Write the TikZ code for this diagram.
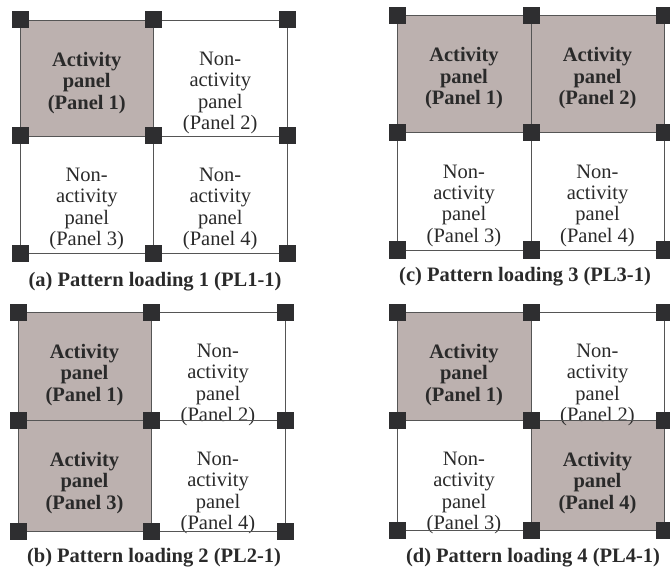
\documentclass[tikz,border=0pt]{standalone}
\usepackage{fontspec}
\setmainfont{Liberation Serif}
\usetikzlibrary{calc}
\definecolor{activefill}{HTML}{BCB1AF}
\definecolor{postgray}{HTML}{2E2E30}
\definecolor{linegray}{HTML}{555555}
\definecolor{textgray}{HTML}{2A2A2A}
\begin{document}
\begin{tikzpicture}[x=1pt,y=-1pt,every node/.style={inner sep=0pt,text=textgray},
    grid/.style={draw=linegray,line width=0.9pt},
    post/.style={fill=postgray,minimum size=17pt},
    active/.style={fill=activefill},
    nonlbl/.style={align=center,anchor=north,font=\fontsize{20.5}{21.3}\selectfont},
    actlbl/.style={nonlbl,font=\fontsize{20.5}{21.3}\selectfont\bfseries},
    caplbl/.style={anchor=base,font=\fontsize{20.5}{21.3}\selectfont\bfseries}]
    \useasboundingbox (0,0) rectangle (670,567);
    % grid points: column i, row j
    \foreach \p/\xa/\xb/\xc/\ya/\yb/\yc in {a/20/153.5/287/20/136/253,b/18/151/285/312/420/531,
        c/397/531/664/15.5/132.5/250,d/397/531/664/312/420/530}{
        \foreach \i/\x in {1/\xa,2/\xb,3/\xc}
            \foreach \j/\y in {1/\ya,2/\yb,3/\yc}
                \coordinate (\p\i\j) at (\x,\y);
        \coordinate (\p-1) at ($(\p11)!.5!(\p21)+(0,32)$);
        \coordinate (\p-2) at ($(\p21)!.5!(\p31)+(0,32)$);
        \coordinate (\p-3) at ($(\p12)!.5!(\p22)+(0,32)$);
        \coordinate (\p-4) at ($(\p22)!.5!(\p32)+(0,32)$);
    }
    % activity panels
    \fill[active] (a11) rectangle (a22);
    \fill[active] (b11) rectangle (b23);
    \fill[active] (c11) rectangle (c32);
    \fill[active] (d11) rectangle (d22) (d22) rectangle (d33);
    \node[actlbl] (a1) at (a-1) {Activity\\panel\\(Panel 1)};
    \node[nonlbl] (a2) at (a-2) {Non-\\activity\\panel\\(Panel 2)};
    \node[nonlbl] (a3) at (a-3) {Non-\\activity\\panel\\(Panel 3)};
    \node[nonlbl] (a4) at (a-4) {Non-\\activity\\panel\\(Panel 4)};
    \node[actlbl] (b1) at (b-1) {Activity\\panel\\(Panel 1)};
    \node[nonlbl] (b2) at (b-2) {Non-\\activity\\panel\\(Panel 2)};
    \node[actlbl] (b3) at (b-3) {Activity\\panel\\(Panel 3)};
    \node[nonlbl] (b4) at (b-4) {Non-\\activity\\panel\\(Panel 4)};
    \node[actlbl] (c1) at (c-1) {Activity\\panel\\(Panel 1)};
    \node[actlbl] (c2) at (c-2) {Activity\\panel\\(Panel 2)};
    \node[nonlbl] (c3) at (c-3) {Non-\\activity\\panel\\(Panel 3)};
    \node[nonlbl] (c4) at (c-4) {Non-\\activity\\panel\\(Panel 4)};
    \node[actlbl] (d1) at (d-1) {Activity\\panel\\(Panel 1)};
    \node[nonlbl] (d2) at (d-2) {Non-\\activity\\panel\\(Panel 2)};
    \node[nonlbl] (d3) at (d-3) {Non-\\activity\\panel\\(Panel 3)};
    \node[actlbl] (d4) at (d-4) {Activity\\panel\\(Panel 4)};
    % beams and columns
    \foreach \p in {a,b,c,d}{
        \draw[grid] (\p11) -- (\p31) (\p12) -- (\p32) (\p13) -- (\p33)
            (\p11) -- (\p13) (\p21) -- (\p23) (\p31) -- (\p33);
        \foreach \k in {11,12,13,21,22,23,31,32,33}
            \node[post] (\p post\k) at (\p\k) {};
    }
    \node[caplbl] (acap) at (155,287) {(a) Pattern loading 1 (PL1-1)};
    \node[caplbl] (bcap) at (154,562) {(b) Pattern loading 2 (PL2-1)};
    \node[caplbl] (ccap) at (525,281) {(c) Pattern loading 3 (PL3-1)};
    \node[caplbl] (dcap) at (533,562) {(d) Pattern loading 4 (PL4-1)};
\end{tikzpicture}
\end{document}
